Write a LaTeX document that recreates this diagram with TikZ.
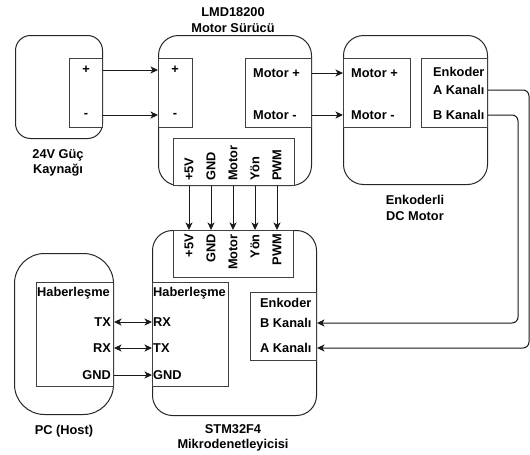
\documentclass[tikz,border=0pt]{standalone}
\usepackage{fontspec}
\setmainfont{Liberation Sans}
\usetikzlibrary{arrows.meta}
\begin{document}
\begin{tikzpicture}[x=1pt,y=-1pt,
  lbl/.style={font=\fontsize{12.8}{15.5}\selectfont\bfseries, inner sep=0pt, text=black},
  rbox/.style={draw=black!85, line width=1pt, rounded corners=#1, anchor=north west, inner sep=0pt},
  pbox/.style={draw=black!75, line width=1pt, fill=white, anchor=north west, inner sep=0pt},
  arr/.style={-{Stealth[length=7.5pt,width=7pt,inset=2pt]}, line width=1pt, draw=black!90},
  darr/.style={{Stealth[length=7.5pt,width=7pt,inset=2pt]}-{Stealth[length=7.5pt,width=7pt,inset=2pt]}, line width=1pt, draw=black!90},
  pin/.style={lbl, rotate=90}
]
\useasboundingbox[fill=white] (0,0) rectangle (530,455);

% outer rounded boxes
\node[rbox=15pt, minimum width=87pt, minimum height=103pt] (ps) at (15,35) {};
\node[rbox=20pt, minimum width=153pt, minimum height=150pt] (dr) at (158,35) {};
\node[rbox=20pt, minimum width=144pt, minimum height=149pt] (mo) at (343,35) {};
\node[rbox=20pt, minimum width=164pt, minimum height=185pt] (st) at (152,230) {};
\node[rbox=30pt, minimum width=99pt, minimum height=161pt] (pc) at (14,253) {};

% inner boxes
\node[pbox, minimum width=33pt, minimum height=69pt] (psin) at (69,58) {};
\node[pbox, minimum width=34pt, minimum height=69pt] (drin) at (158,58) {};
\node[pbox, minimum width=66pt, minimum height=69pt] (drm) at (245,58) {};
\node[pbox, minimum width=121pt, minimum height=47pt] (drp) at (173,138) {};
\node[pbox, minimum width=67pt, minimum height=69pt] (moin) at (343,58) {};
\node[pbox, minimum width=66pt, minimum height=69pt] (moen) at (421,58) {};
\node[pbox, minimum width=120pt, minimum height=47pt] (stp) at (173,230) {};
\node[pbox, minimum width=76pt, minimum height=104pt] (sth) at (152,282) {};
\node[pbox, minimum width=66pt, minimum height=68pt] (sten) at (250,292) {};
\node[pbox, minimum width=77pt, minimum height=104pt] (pcin) at (36,282) {};

% titles
\node[lbl, align=center] (tdr) at (233,20) {LMD18200\\Motor Sürücü};
\node[lbl, align=center] (tps) at (58,163) {24V Güç\\Kaynağı};
\node[lbl, align=center] (tmo) at (415,208) {Enkoderli\\DC Motor};
\node[lbl] (tpc) at (64,431) {PC (Host)};
\node[lbl, align=center] (tst) at (233,438) {STM32F4\\Mikrodenetleyicisi};

% power supply
\node[lbl] (psp) at (86,70) {+};
\node[lbl] (psm) at (86,115) {-};
% driver
\node[lbl] (drp1) at (175,70) {+};
\node[lbl] (drm1) at (175,115) {-};
\node[lbl, anchor=west] (dmp) at (253,73) {Motor +};
\node[lbl, anchor=west] (dmm) at (253,115) {Motor -};
% motor
\node[lbl, anchor=west] (mmp) at (351,73) {Motor +};
\node[lbl, anchor=west] (mmm) at (351,115) {Motor -};
\node[lbl, anchor=west] (men) at (433,72) {Enkoder};
\node[lbl, anchor=west] (mA) at (433,90) {A Kanalı};
\node[lbl, anchor=west] (mB) at (433,115) {B Kanalı};
% driver pins
\node[pin, anchor=west] (d1) at (189,181) {+5V};
\node[pin, anchor=west] (d2) at (211,181) {GND};
\node[pin, anchor=west] (d3) at (233,181) {Motor};
\node[pin, anchor=west] (d4) at (255,181) {Yön};
\node[pin, anchor=west] (d5) at (277,181) {PWM};
% stm pins
\node[pin, anchor=east] (s1) at (189,234) {+5V};
\node[pin, anchor=east] (s2) at (211,234) {GND};
\node[pin, anchor=east] (s3) at (233,234) {Motor};
\node[pin, anchor=east] (s4) at (255,234) {Yön};
\node[pin, anchor=east] (s5) at (277,234) {PWM};
% stm encoder
\node[lbl, anchor=west] (sen) at (260,303) {Enkoder};
\node[lbl, anchor=west] (sB) at (260,323) {B Kanalı};
\node[lbl, anchor=west] (sA) at (260,348) {A Kanalı};
% comms
\node[lbl, anchor=west] (ph) at (37,293) {Haberleşme};
\node[lbl, anchor=east] (ptx) at (111,322) {TX};
\node[lbl, anchor=east] (prx) at (111,348) {RX};
\node[lbl, anchor=east] (pgnd) at (111,375) {GND};
\node[lbl, anchor=west] (sh) at (153,293) {Haberleşme};
\node[lbl, anchor=west] (srx) at (153,322) {RX};
\node[lbl, anchor=west] (stx) at (153,348) {TX};
\node[lbl, anchor=west] (sgnd) at (153,375) {GND};

% connectors
\draw[arr] (psin.east |- psp) -- (dr.west |- psp);
\draw[arr] (psin.east |- psm) -- (dr.west |- psm);
\draw[arr] (drm.east |- dmp) -- (mo.west |- dmp);
\draw[arr] (drm.east |- dmm) -- (mo.west |- dmm);
\foreach \i in {1,...,5} {
  \draw[arr] (d\i |- drp.south) -- (d\i |- stp.north);
}
\coordinate (ca) at (529,0);
\coordinate (cb) at (518,0);
\draw[arr, rounded corners=6pt] (moen.east |- mA) -- (ca |- mA) -- (ca |- sA) -- (sten.east |- sA);
\draw[arr, rounded corners=6pt] (moen.east |- mB) -- (cb |- mB) -- (cb |- sB) -- (sten.east |- sB);
\draw[darr] (pcin.east |- ptx) -- (sth.west |- ptx);
\draw[darr] (pcin.east |- prx) -- (sth.west |- prx);
\draw[arr] (pcin.east |- pgnd) -- (sth.west |- pgnd);
\end{tikzpicture}
\end{document}
